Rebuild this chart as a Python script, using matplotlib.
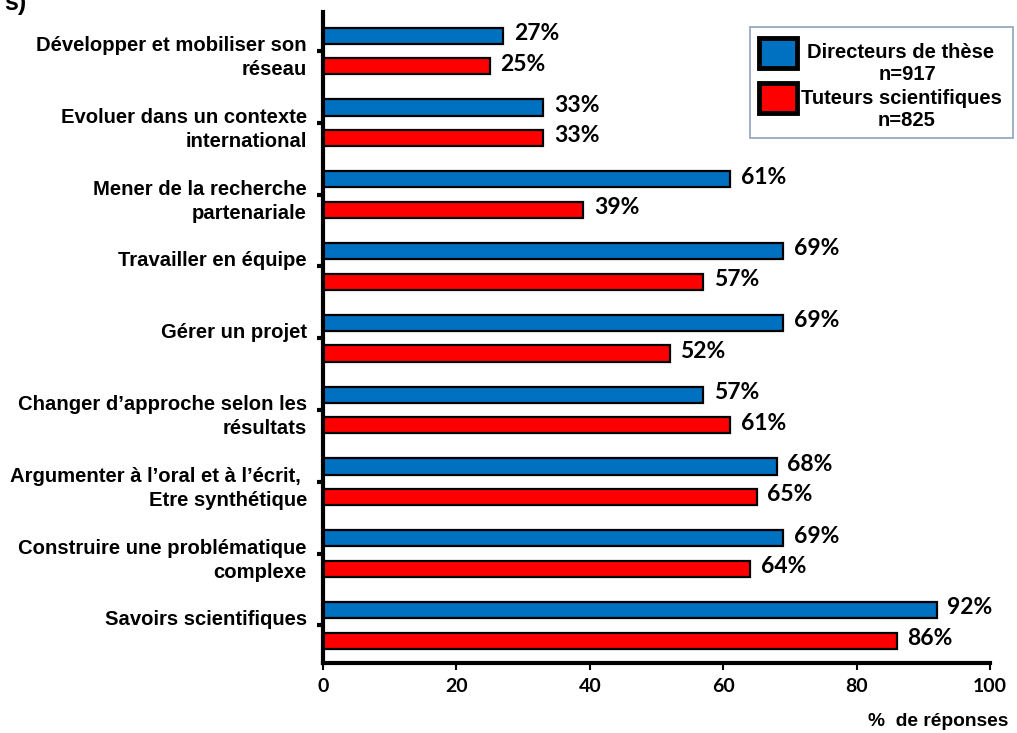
import matplotlib
matplotlib.use("Agg")
import matplotlib.pyplot as plt
import numpy as np
from matplotlib.patches import Rectangle
from matplotlib.transforms import offset_copy

categories = [
    "Développer et mobiliser son\nréseau",
    "Evoluer dans un contexte\ninternational",
    "Mener de la recherche\npartenariale",
    "Travailler en équipe",
    "Gérer un projet",
    "Changer d\u2019approche selon les\nrésultats",
    "Argumenter à l\u2019oral et à l\u2019écrit, \nEtre synthétique",
    "Construire une problématique\ncomplexe",
    "Savoirs scientifiques",
]
directeurs = [27, 33, 61, 69, 69, 57, 68, 69, 92]
tuteurs = [25, 33, 39, 57, 52, 61, 65, 64, 86]
series_names = ["Directeurs de thèse", "Tuteurs scientifiques"]
series_n = ["n=917", "n=825"]
xticks = [0, 20, 40, 60, 80, 100]

BLUE = "#0070C0"
RED = "#FF0000"
W, H = 1017, 733

fig = plt.figure(figsize=(W/100, H/100), dpi=100)
ax = fig.add_axes([323/W, 1-663/H, (990-323)/W, (663-12)/H])

n = len(categories)
y = np.arange(n)
h = 0.225
off = 0.213
ax.barh(y - off, directeurs, height=h, color=BLUE, edgecolor="black", linewidth=1.6)
ax.barh(y + off, tuteurs, height=h, color=RED, edgecolor="black", linewidth=1.6)

vfont = dict(family="Lato", fontweight="bold", fontsize=16.5)
for i, (d, t) in enumerate(zip(directeurs, tuteurs)):
    ax.text(d + 1.6, i - off - 0.03, f"{d}%", va="center", ha="left", **vfont)
    ax.text(t + 1.6, i + off - 0.03, f"{t}%", va="center", ha="left", **vfont)

ax.set_ylim(8.524, -0.543)
ax.set_xlim(0, 100)
ax.set_yticks(y)
ax.set_yticklabels([])
lab_tr = offset_copy(ax.get_yaxis_transform(), fig=fig, x=-16, y=0, units="dots")
for i, c in enumerate(categories):
    lines = c.split("\n")
    for j, ln in enumerate(lines):
        ax.text(0, i + j * 24/71.8, ln, transform=lab_tr, ha="right", va="baseline",
                family="Liberation Sans", fontweight="bold", fontsize=14.6, clip_on=False)

ax.set_xticks(xticks)
ax.set_xticklabels([str(v) for v in xticks], family="Lato", fontweight="bold", fontsize=14)

for s in ["top", "right"]:
    ax.spines[s].set_visible(False)
ax.spines["left"].set_linewidth(3)
ax.spines["bottom"].set_linewidth(3)
ax.tick_params(axis="y", length=4, width=3, direction="out")
ax.tick_params(axis="x", length=5, width=1.5, pad=6, direction="out")

fig.text(1008/W, 1-721/H, "%  de réponses", ha="right", va="center",
         family="Liberation Sans", fontweight="bold", fontsize=13.8)

# legend (drawn manually to match the reference layout)
fig.add_artist(Rectangle((750/W, 1-138/H), (1013-750)/W, (138-27)/H,
                         transform=fig.transFigure, facecolor="white",
                         edgecolor="#97AAC3", linewidth=1.3))
for k, (col, name, nn) in enumerate(zip([BLUE, RED], series_names, series_n)):
    top = 38 + k * 45
    fig.add_artist(Rectangle((759/W, 1-(top+30)/H), 38/W, 30/H,
                             transform=fig.transFigure, facecolor=col,
                             edgecolor="black", linewidth=3.5))
    fig.text(901/W, 1-(top+15)/H, name, ha="center", va="center",
             family="Liberation Sans", fontweight="bold", fontsize=14.5)
    fig.text(907/W, 1-(top+37)/H, nn, ha="center", va="center",
             family="Liberation Sans", fontweight="bold", fontsize=14.5)

# partially visible heading at top-left (cut off in the reference)
fig.text(4/W, 1-3/H, "s)", ha="left", va="center",
         family="Liberation Sans", fontweight="bold", fontsize=18)

fig.savefig("out.png", dpi=100)
